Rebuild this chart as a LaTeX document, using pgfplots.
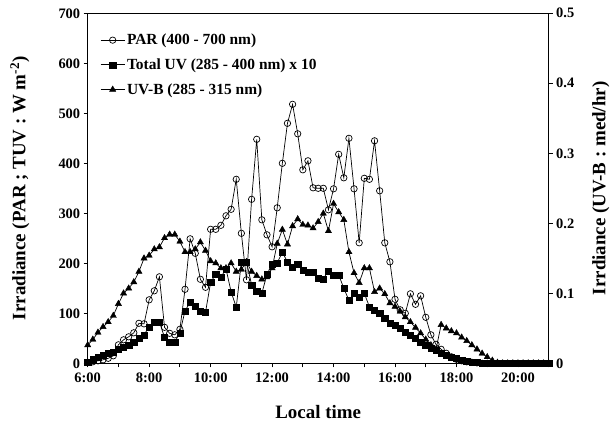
\documentclass[border=0pt]{standalone}
\usepackage{pgfplots}
\pgfplotsset{compat=1.18}
\usepackage{pgfplotstable}
\usepackage{fontspec}
\setmainfont{Liberation Serif}

% t = minutes after midnight; par, tuv (x10) in W m^-2; uvb in med/hr
\pgfplotstableread{
t par tuv uvb
360 2 3 0.026
370 3 8 0.034
380 5 13 0.044
390 7 17 0.052
400 10 21 0.059
410 15 23 0.068
420 37 28 0.085
430 47 32 0.100
440 53 37 0.107
450 61 43 0.116
460 80 50 0.131
470 79 57 0.150
480 127 73 0.154
490 145 83 0.163
500 173 83 0.166
510 72 52 0.179
520 60 43 0.184
530 57 43 0.184
540 68 61 0.174
550 148 105 0.159
560 249 122 0.159
570 220 115 0.163
580 168 104 0.173
590 152 102 0.161
600 268 162 0.146
610 268 178 0.143
620 276 172 0.136
630 295 189 0.136
640 308 143 0.143
650 368 112 0.131
660 260 202 0.134
670 167 203 0.145
680 328 157 0.131
690 448 145 0.125
700 287 140 0.120
710 257 178 0.123
720 233 198 0.136
730 311 201 0.171
740 400 222 0.191
750 480 203 0.170
760 518 192 0.196
770 459 198 0.206
780 387 187 0.198
790 405 183 0.197
800 351 183 0.193
810 350 170 0.202
820 350 169 0.214
830 307 185 0.189
840 349 177 0.228
850 418 177 0.216
860 371 150 0.205
870 450 126 0.159
880 349 140 0.129
890 241 133 0.115
900 370 140 0.136
910 368 113 0.136
920 445 107 0.102
930 345 100 0.107
940 241 90 0.099
950 203 80 0.086
960 128 76 0.081
970 107 70 0.074
980 100 63 0.066
990 139 57 0.059
1000 118 50 0.051
1010 135 43 0.043
1020 92 37 0.034
1030 57 31 0.026
1040 38 26 0.020
1050 28 21 0.055
1060 20 17 0.050
1070 13 13 0.046
1080 8 10 0.043
1090 5 7 0.037
1100 3 5 0.032
1110 2 3 0.026
1120 1 2 0.020
1130 0 1 0.014
1140 0 0 0.009
1150 0 0 0.004
1160 0 0 0.001
1170 0 0 0
1180 0 0 0
1190 0 0 0
1200 0 0 0
1210 0 0 0
1220 0 0 0
1230 0 0 0
1240 0 0 0
1250 0 0 0
1260 0 0 0
}\data

\pgfplotsset{
  common/.style={
    scale only axis, width=461bp, height=350bp,
    xmin=360, xmax=1260,
    clip=false,
    tick align=outside,
    major tick length=4bp, minor tick length=4bp,
    every tick/.style={black, line width=0.8bp},
    axis line style={line width=0.9bp},
    /pgf/number format/assume math mode=true,
    ticklabel style={font=\fontsize{14.5}{16}\selectfont\bfseries},
    label style={font=\fontsize{19}{22}\selectfont\bfseries},
  },
  legend image code/.code={\draw[mark repeat=2,mark phase=2,#1] plot coordinates {(0bp,0bp) (12bp,0bp) (24bp,0bp)};},
}

\begin{document}
\begin{tikzpicture}
\begin{axis}[common, name=main,
  ymin=0, ymax=700,
  xtick={360,480,...,1200},
  xticklabels={6:00,8:00,10:00,12:00,14:00,16:00,18:00,20:00},
  minor xtick={420,540,...,1260},
  ytick={0,100,...,700},
  xtick pos=left, ytick pos=left,
  xticklabel style={yshift=-2bp},
  xlabel={Local time},
  xlabel style={at={(axis description cs:0.5,-0.139)}, anchor=center},
  ylabel={Irradiance (PAR ; TUV : W m\textsuperscript{-2})},
  ylabel style={at={(axis description cs:-0.147,0.5)}, anchor=center},
  legend style={at={(axis description cs:0.027,0.947)}, anchor=north west,
    draw=none, fill=none, inner sep=0pt, row sep=8.5bp,
    font=\fontsize{15.5}{17}\selectfont\bfseries},
  legend cell align=left,
]
\addplot[black, line width=0.7bp, mark=o, mark size=3.2bp,
  mark options={fill=white, line width=0.7bp}] table[x=t, y=par] {\data};
\addlegendentry{PAR (400 - 700 nm)}
\addplot[black, line width=0.7bp, mark=square*, mark size=3.1bp,
  mark options={line width=0.4bp}] table[x=t, y=tuv] {\data};
\addlegendentry{Total UV (285 - 400 nm) x 10}
\addlegendimage{black, line width=0.7bp, mark=triangle*, mark size=3.6bp, mark options={line width=0.4bp}}
\addlegendentry{UV-B (285 - 315 nm)}
\end{axis}
\begin{axis}[common,
  ymin=0, ymax=0.5,
  axis y line*=right, axis x line=none,
  ytick={0,0.1,...,0.5},
  ylabel={Irrdiance (UV-B : med/hr)},
  ylabel style={at={(axis description cs:1.113,0.5)}, anchor=center},
]
\addplot[black, line width=0.7bp, mark=triangle*, mark size=3.6bp,
  mark options={line width=0.4bp}] table[x=t, y=uvb] {\data};
\end{axis}
\pgfresetboundingbox
\path[use as bounding box] ([xshift=-87.7bp,yshift=-77.7bp]main.south west) rectangle ++(615bp,441bp);
\end{tikzpicture}
\end{document}
